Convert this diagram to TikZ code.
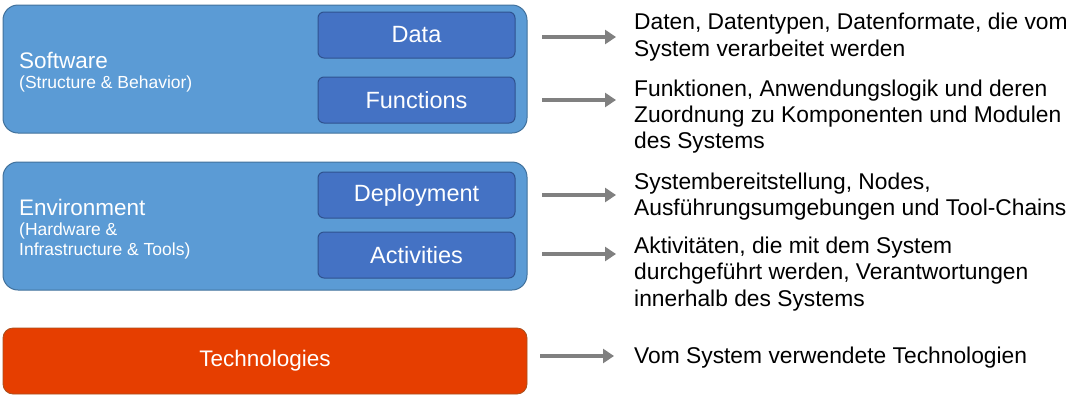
\documentclass[tikz,border=0pt]{standalone}
\usepackage{fontspec}
\setmainfont{Liberation Sans}
\usetikzlibrary{arrows.meta}
\definecolor{outerblue}{HTML}{5B9BD5}
\definecolor{outerborder}{HTML}{41719C}
\definecolor{innerblue}{HTML}{4472C4}
\definecolor{innerborder}{HTML}{2F528F}
\definecolor{techred}{HTML}{E63E00}
\definecolor{techborder}{HTML}{A8501E}
\definecolor{arrowgray}{HTML}{808080}
\begin{document}
\begin{tikzpicture}[x=1pt,y=-1pt,
  outerbox/.style={draw=outerborder, fill=outerblue, line width=1pt, rounded corners=15pt},
  innerbox/.style={draw=innerborder, fill=innerblue, line width=1pt, rounded corners=6pt, text=white, font=\fontsize{23.5}{28}\selectfont},
  techbox/.style={draw=techborder, fill=techred, line width=0.8pt, rounded corners=10pt, text=white, font=\fontsize{22.5}{27}\selectfont},
  bigtitle/.style={text=white, anchor=west, font=\fontsize{22.5}{27}\selectfont, inner sep=0pt},
  subtitle/.style={text=white, anchor=west, align=left, font=\fontsize{17.5}{20.5}\selectfont, inner sep=0pt},
  desc/.style={anchor=west, align=left, font=\fontsize{22.8}{26.3}\selectfont, inner sep=0pt},
  grayarrow/.style={draw=arrowgray, line width=4pt, -{Triangle[length=11pt,width=14pt]}}
]
\useasboundingbox (0,0) rectangle (1076,400);
% Software
\draw[outerbox] (3,5) rectangle (527,133);
\node[innerbox, minimum width=197pt, minimum height=46pt] (data) at (416.5,35) {Data};
\node[innerbox, minimum width=197pt, minimum height=46pt] (func) at (416.5,100) {Functions};
\node[bigtitle] (sw) at (19,60) {Software};
\node[subtitle] (swsub) at (19,84) {(Structure \& Behavior)};
% Environment
\draw[outerbox] (3,162) rectangle (527,290);
\node[innerbox, minimum width=197pt, minimum height=46pt] (depl) at (416.5,195) {Deployment};
\node[innerbox, minimum width=197pt, minimum height=46pt] (act) at (416.5,255) {Activities};
\node[bigtitle] (env) at (19,207) {Environment};
\node[subtitle] (envsub) at (19,241) {(Hardware \&\\Infrastructure \& Tools)};
% Technologies
\node[techbox, minimum width=524pt, minimum height=66pt] (tech) at (265,361) {Technologies};
% descriptions
\node[desc] (d1) at (634,37) {Daten, Datentypen, Datenformate, die vom\\System verarbeitet werden};
\node[desc] (d2) at (634,116.5) {Funktionen, Anwendungslogik und deren\\Zuordnung zu Komponenten und Modulen\\des Systems};
\node[desc] (d3) at (634,196.5) {Systembereitstellung, Nodes,\\Ausführungsumgebungen und Tool-Chains};
\node[desc] (d4) at (634,274) {Aktivitäten, die mit dem System\\durchgeführt werden, Verantwortungen\\innerhalb des Systems};
\node[desc] (d5) at (634,358) {Vom System verwendete Technologien};
% arrows
\coordinate (a1s) at (542,37); \coordinate (a1e) at (616,37);
\coordinate (a2s) at (542,100); \coordinate (a2e) at (616,100);
\coordinate (a3s) at (542,195); \coordinate (a3e) at (616,195);
\coordinate (a4s) at (542,254); \coordinate (a4e) at (616,254);
\coordinate (a5s) at (540,356); \coordinate (a5e) at (614,356);
\draw[grayarrow] (a1s) -- (a1e);
\draw[grayarrow] (a2s) -- (a2e);
\draw[grayarrow] (a3s) -- (a3e);
\draw[grayarrow] (a4s) -- (a4e);
\draw[grayarrow] (a5s) -- (a5e);
\end{tikzpicture}
\end{document}
